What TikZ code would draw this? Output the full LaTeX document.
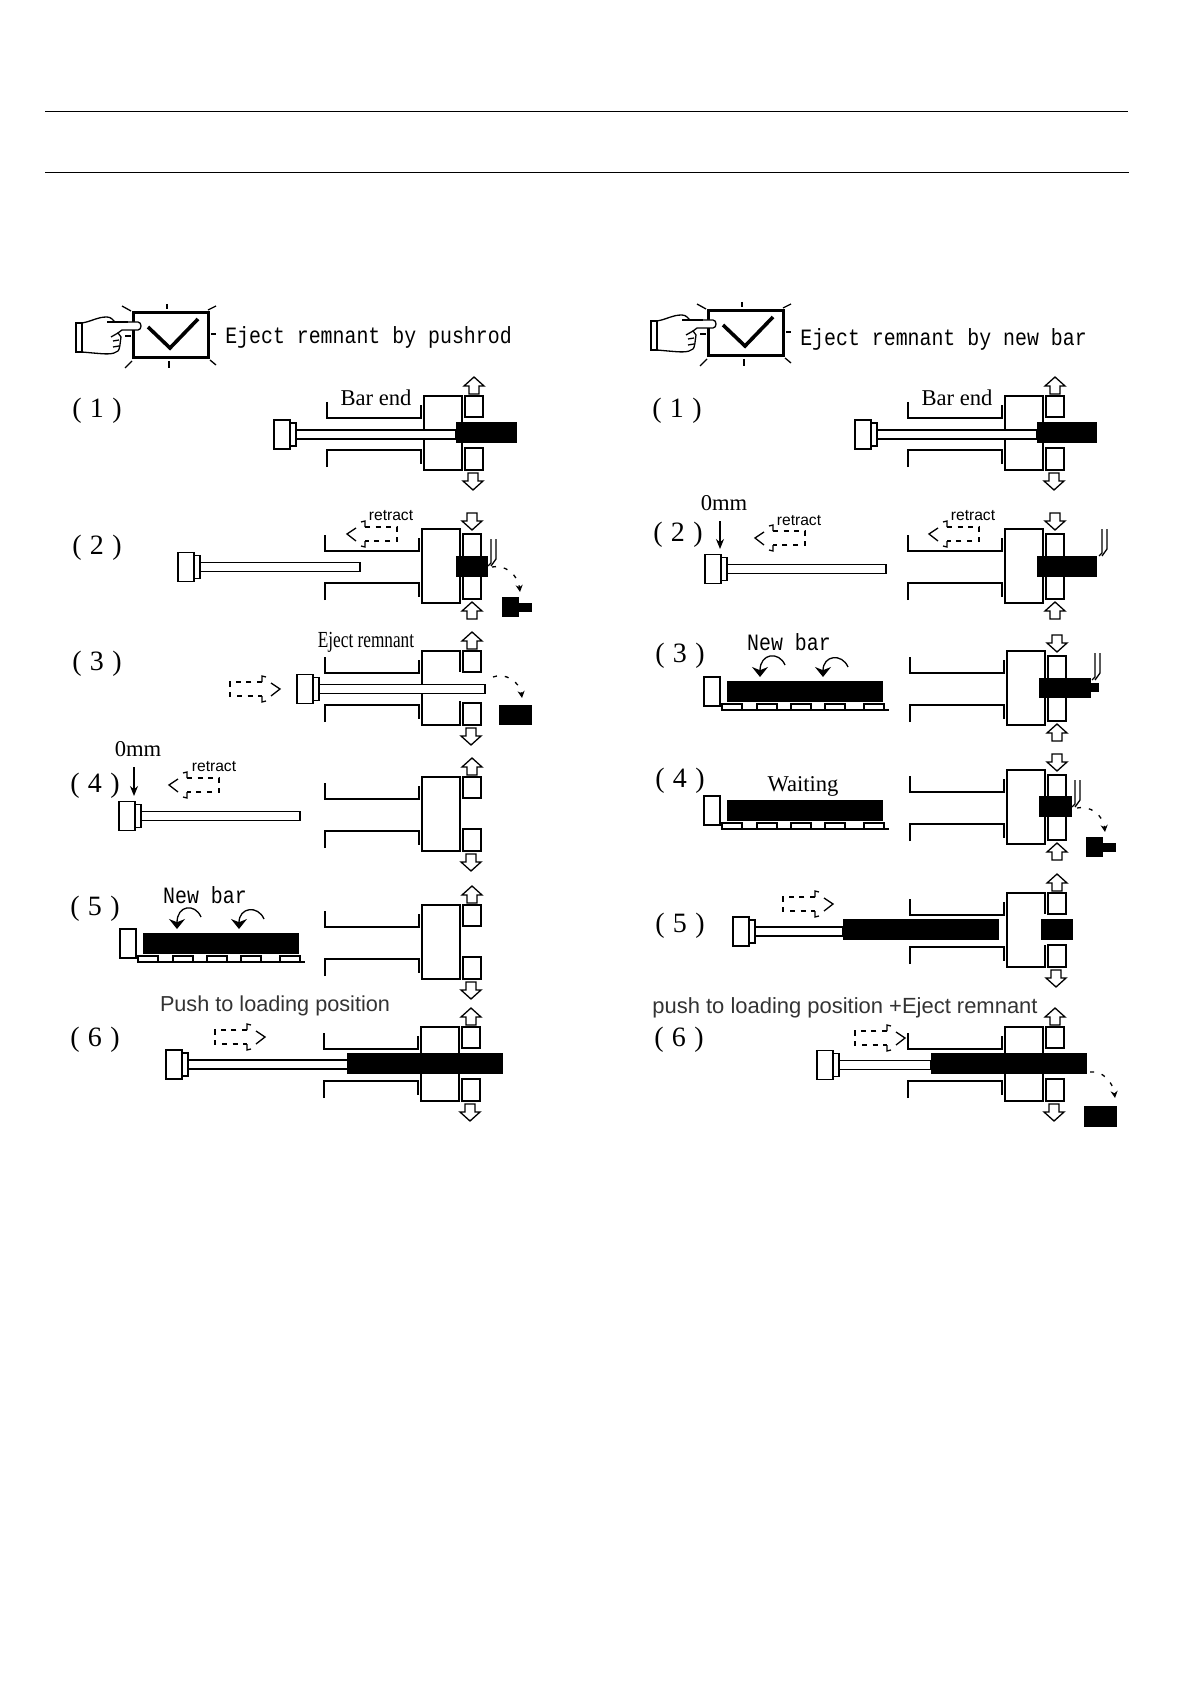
\documentclass[tikz,border=0pt]{standalone}
\usepackage{fontspec}
\setmainfont{Liberation Serif}
\newfontfamily\panelfont[FakeStretch=0.85]{Liberation Mono}
\newfontfamily\stepfont[WordSpace=1.2]{Liberation Serif}
\newfontfamily\squeezefont[FakeStretch=0.75]{Liberation Serif}
\newfontfamily\plainfont{Liberation Sans}
\usetikzlibrary{arrows.meta}
\tikzset{
	line/.style={
			draw=black,
			line width=0.65pt
		},
	part/.style={
			line,
			fill=white
		},
	barfill/.style={
			fill=black
		},
	dashpart/.style={
			line,
			dash pattern=on 2.5pt off 2.8pt
		},
	fallpath/.style={
			line,
			dash pattern=on 2pt off 4pt,
			-{Stealth[length=3.5pt,width=3.5pt]}
		},
	droppath/.style={
			line,
			-{Stealth[length=5pt,width=8pt]}
		},
	panellabel/.style={
			font=\panelfont\fontsize{11.7}{14}\selectfont,
			inner sep=0pt
		},
	steplabel/.style={
			font=\stepfont\fontsize{14}{16}\selectfont,
			inner sep=0pt
		},
	seriflabel/.style={
			font=\fontsize{11.3}{14}\selectfont,
			inner sep=0pt
		},
	retractlabel/.style={
			font=\plainfont\fontsize{7.8}{10}\selectfont,
			inner sep=0pt
		},
	sanslabel/.style={
			font=\plainfont\fontsize{10.83}{13}\selectfont,
			text=black!80,
			inner sep=0pt
		},
	pics/arrowup/.style={code={
			\draw[part] (0,-9) -- (10,0) -- (5,0) -- (5,8) -- (-5,8) -- (-5,0) -- (-10,0) -- cycle;
		}},
	pics/arrowdown/.style={code={
			\draw[part] (0,9) -- (10,0) -- (5,0) -- (5,-8) -- (-5,-8) -- (-5,0) -- (-10,0) -- cycle;
		}},
	pics/chuck/.style={code={
			\draw[line] (-97,-31) -- (-97,-15) -- (-3,-15) -- (-3,-28);
			\draw[line] (-97,34) -- (-97,17) -- (-3,17) -- (-3,31);
			\draw[part] (0,-37) rectangle (38,37);
		}},
	pics/jawsopen/.style={code={
			\draw[part] (41,-37) rectangle (59,-16);
			\draw[part] (41,15) rectangle (59,37);
			\pic at (50,-47) {arrowup};
			\pic at (49,48) {arrowdown};
		}},
	pics/jawsclosed/.style={code={
			\draw[part] (41,-32) rectangle (59,33);
			\pic at (50,-45) {arrowdown};
			\pic at (50,45) {arrowup};
		}},
	pics/pushrod/.style={code={
			\draw[part] (22,-4.5) rectangle (#1,4.5);
			\draw[part] (16,-11.5) rectangle (22,11.5);
			\draw[part] (0,-14.5) rectangle (16,14.5);
		}},
	pics/dasharrow/.style={code={
			\draw[dashpart] (32,-7) -- (0,-7) -- (0,7) -- (32,7);
			\draw[line] (36,-12) -- (32,-13) -- (32,-7);
			\draw[line] (36,12) -- (32,13) -- (32,7);
			\draw[line] (41,-6) -- (50,0) -- (41,7);
		}},
	pics/blade/.style={code={
			\draw[line] (0,27) -- (3,24) -- (3,0);
			\draw[line] (3,27) -- (8,20) -- (8,0);
		}},
	pics/offcut/.style={code={
			\fill[barfill] (0,0) rectangle (17,20);
			\fill[barfill] (17,6) rectangle (30,15);
		}},
	pics/carrier/.style={code={
			\draw[part] (-18,-33) rectangle (-2,-4);
			\draw[line] (0,0) -- (167,0);
			\foreach \sx in {0,35,69,103,142} {
				\draw[part] (\sx,-6) rectangle (\sx+20,0);
			}
			\fill[barfill] (5,-29) rectangle (161,-8);
		}},
	pics/pressbutton/.style={code={
			\draw[draw=black, line width=1.5pt] (0,0) rectangle (75,45);
			\draw[draw=black, line width=1.8pt] (15,14) -- (37,35) -- (65,6);
			\foreach \ax/\ay/\bx/\by in {34/-9/34/-4, -11/-7/-2/-2, 75/-3/83/-7, 78/21/83/21, -1/48/-8/55, 36/48/36/55, 77/47/83/52, -8/23/-2/23} {
				\draw[line] (\ax,\ay) -- (\bx,\by);
			}
			\draw[part] (-51,10) .. controls (-40,8) and (-36,4) .. (-26,4) .. controls (-22,4) and (-20,7) .. (-18,9)
				-- (5,9) .. controls (9,9) and (9,17) .. (5,17) -- (-11,17) -- (-15,20) -- (-12,24)
				.. controls (-13,30) and (-13,36) .. (-15,38) .. controls (-20,42) and (-28,41) .. (-40,40) -- (-51,39) -- cycle;
			\draw[line] (-57,10) rectangle (-51,39);
			\draw[line] (-15,20) -- (-22,24);
			\draw[line] (-14,27) -- (-20,28);
			\draw[line] (-14,33) -- (-20,34);
			\draw[line] (-26,9) -- (-5,9);
		}}
}
\begin{document}
\begin{tikzpicture}[x=0.5pt, y=-0.5pt]
\useasboundingbox (0,0) rectangle (1190,1684);

\draw[draw=black, line width=0.4pt] (45,111) -- (1128,111);
\draw[draw=black, line width=0.4pt] (45,172) -- (1129,172);

\pic at (133,313) {pressbutton};
\node[panellabel] (leftpanel) at (368.5,337) {Eject remnant by pushrod};
\pic at (708,311) {pressbutton};
\node[panellabel] (rightpanel) at (943.5,339) {Eject remnant by new bar};

\node[steplabel] (l1) at (97,411) {( 1 )};
\node[steplabel] (l2) at (97,548) {( 2 )};
\node[steplabel] (l3) at (97,664) {( 3 )};
\node[steplabel] (l4) at (95,786) {( 4 )};
\node[steplabel] (l5) at (95,909) {( 5 )};
\node[steplabel] (l6) at (95,1040) {( 6 )};
\node[steplabel] (r1) at (677,411) {( 1 )};
\node[steplabel] (r2) at (678,535) {( 2 )};
\node[steplabel] (r3) at (680,656) {( 3 )};
\node[steplabel] (r4) at (680,781) {( 4 )};
\node[steplabel] (r5) at (680,926) {( 5 )};
\node[steplabel] (r6) at (679,1040) {( 6 )};

\pic at (424,433) {chuck};
\pic at (424,433) {jawsopen};
\pic at (274,434.5) {pushrod=182};
\fill[barfill] (456,422) rectangle (517,443);
\node[seriflabel] (lbarend) at (376,398) {Bar end};

\pic at (422,566) {chuck};
\pic at (422,566) {jawsclosed};
\pic at (178,567) {pushrod=182};
\fill[barfill] (456,556) rectangle (488,577);
\pic at (488,539) {blade};
\draw[fallpath] (492,567) .. controls (505,564) and (518,575) .. (520,592);
\pic at (502,597) {offcut};
\pic[xscale=-1] at (397,534) {dasharrow};
\node[retractlabel] (lretract2) at (391,516) {retract};

\pic at (422,688) {chuck};
\pic at (422,688) {jawsopen};
\fill[white] (458,672) rectangle (462,701);
\pic at (297,689) {pushrod=188};
\pic at (230,689) {dasharrow};
\draw[fallpath] (493,677) .. controls (505,672) and (520,682) .. (522,698);
\fill[barfill] (499,705) rectangle (532,725);
\node[font=\squeezefont\fontsize{11.5}{14}\selectfont, inner sep=0pt] (lremnant) at (366,642) {Eject remnant};

\pic at (422,814) {chuck};
\pic at (422,814) {jawsopen};
\pic at (119,816) {pushrod=181};
\pic[xscale=-1] at (219,785) {dasharrow};
\node[retractlabel] (lretract4) at (214,767) {retract};
\node[seriflabel] (lzero) at (138,749) {0mm};
\draw[line, -{Stealth[length=5pt,width=4pt]}] (134,767) -- (134,796);

\pic at (422,942) {chuck};
\pic at (422,942) {jawsopen};
\pic at (138,962) {carrier};
\node[panellabel] (lnewbar) at (205,895) {New bar};
\draw[droppath] (201,917) .. controls (195,903) and (177,905) .. (177,929);
\draw[droppath] (264,919) .. controls (258,905) and (239,907) .. (239,929);

\pic at (421,1064) {chuck};
\pic at (421,1064) {jawsopen};
\pic at (166,1064.5) {pushrod=185};
\fill[barfill] (347,1053) rectangle (503,1074);
\pic at (215,1037) {dasharrow};
\node[sanslabel] (lpush) at (275,1006) {Push to loading position};

\pic at (1005,433) {chuck};
\pic at (1005,433) {jawsopen};
\pic at (855,434.5) {pushrod=182};
\fill[barfill] (1037,422) rectangle (1097,443);
\node[seriflabel] (rbarend) at (957,398) {Bar end};

\pic at (1005,566) {chuck};
\pic at (1005,566) {jawsclosed};
\pic at (705,569) {pushrod=181};
\fill[barfill] (1037,556) rectangle (1097,577);
\pic at (1099,529) {blade};
\pic[xscale=-1] at (805,538) {dasharrow};
\node[retractlabel] (rretract1) at (799,521) {retract};
\pic[xscale=-1] at (979,534) {dasharrow};
\node[retractlabel] (rretract2) at (973,516) {retract};
\node[seriflabel] (rzero) at (724,503) {0mm};
\draw[line, -{Stealth[length=5pt,width=4pt]}] (720,521) -- (720,549);

\pic at (1007,688) {chuck};
\pic at (1007,688) {jawsclosed};
\fill[barfill] (1039,678) rectangle (1091,698);
\fill[barfill] (1091,683) rectangle (1099,692);
\pic at (1092,653) {blade};
\pic at (722,710) {carrier};
\node[panellabel] (rnewbar) at (789,642) {New bar};
\draw[droppath] (785,665) .. controls (779,651) and (760,653) .. (760,677);
\draw[droppath] (848,667) .. controls (842,653) and (823,655) .. (823,677);

\pic at (1007,807) {chuck};
\pic at (1007,807) {jawsclosed};
\fill[barfill] (1039,796) rectangle (1072,817);
\pic at (1072,780) {blade};
\draw[fallpath] (1077,808) .. controls (1090,805) and (1103,815) .. (1105,832);
\pic at (1086,837) {offcut};
\pic at (722,829) {carrier};
\node[seriflabel] (rwaiting) at (803,786) {Waiting};

\pic at (1007,930) {chuck};
\pic at (1007,930) {jawsopen};
\fill[white] (1043,914) rectangle (1047,945);
\pic at (733,931.5) {pushrod=110};
\fill[barfill] (843,919) rectangle (999,940);
\fill[barfill] (1041,919) rectangle (1073,940);
\pic at (783,904) {dasharrow};

\pic at (1005,1064) {chuck};
\pic at (1005,1064) {jawsopen};
\pic at (817,1065) {pushrod=114};
\fill[barfill] (931,1053) rectangle (1087,1074);
\pic at (855,1038) {dasharrow};
\draw[fallpath] (1090,1072) .. controls (1102,1070) and (1113,1082) .. (1115,1098);
\fill[barfill] (1084,1106) rectangle (1117,1127);
\node[sanslabel, font=\plainfont\fontsize{10.98}{13}\selectfont] (rpush) at (845,1008) {push to loading position +Eject remnant};

\end{tikzpicture}
\end{document}
